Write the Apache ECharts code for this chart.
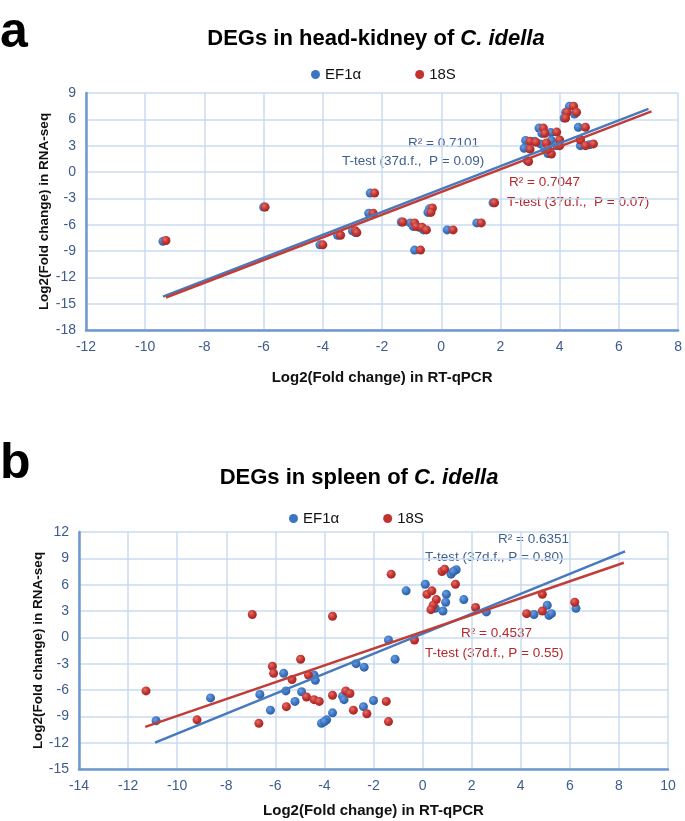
<!DOCTYPE html>
<html>
<head>
<meta charset="utf-8">
<script src="https://cdn.jsdelivr.net/npm/echarts@6/dist/echarts.min.js"></script>
<style>
html,body{margin:0;padding:0;background:#fff;}
#c{width:685px;height:821px;}
</style>
</head>
<body>
<div id="c"></div>
<script>
// ---------- data: panel a (head-kidney) ----------
const aEF1a = [[-9.4,-7.9],[-6.0,-4.0],[-4.1,-8.3],[-3.5,-7.2],[-3.0,-6.7],[-2.4,-2.4],[-2.45,-4.7],[-1.35,-5.7],[-1.05,-5.8],[-0.95,-6.2],[-0.75,-6.3],[-0.6,-6.6],[-0.4,-4.2],[-0.45,-4.6],[0.2,-6.6],[-0.9,-8.9],[1.2,-5.8],[1.75,-3.5],[2.85,3.6],[2.8,2.7],[2.9,1.3],[3.15,3.5],[3.3,5.0],[3.4,4.4],[3.35,3.2],[3.6,2.1],[3.7,4.5],[3.72,3.6],[4.2,6.8],[4.33,7.5],[4.5,6.6],[4.15,6.15],[4.63,5.1],[4.7,3.7],[4.7,3.0],[5.0,3.1],[3.5,2.6],[3.9,3.0],[-2.9,-6.9]];
const a18S = [[-9.3,-7.8],[-5.95,-4.0],[-4.0,-8.3],[-3.4,-7.2],[-2.9,-6.7],[-2.25,-2.4],[-2.3,-4.7],[-1.3,-5.7],[-0.9,-5.8],[-0.85,-6.2],[-0.65,-6.3],[-0.5,-6.6],[-0.3,-4.1],[-0.35,-4.6],[0.4,-6.6],[-0.7,-8.9],[1.35,-5.8],[1.8,-3.5],[3.0,3.5],[3.0,2.6],[2.95,1.2],[3.2,3.4],[3.45,5.0],[3.5,4.4],[3.55,3.3],[3.72,2.05],[3.9,4.55],[4.0,3.65],[4.25,6.8],[4.47,7.5],[4.57,6.8],[4.2,6.15],[4.87,5.1],[4.7,3.65],[4.87,3.0],[5.14,3.2],[3.6,2.6],[4.0,3.0],[-2.85,-6.9]];
const aTrendEF1a = [[-9.4,-14.2],[7.0,7.2]];
const aTrend18S = [[-9.3,-14.3],[7.1,6.9]];
const aXTicks = {min:-12, max:8, interval:2};
const aYTicks = {min:-18, max:9, interval:3};

// ---------- data: panel b (spleen) ----------
const bEF1a = [[-10.86,-9.5],[-8.64,-6.9],[-6.63,-6.5],[-6.2,-8.3],[-5.66,-4.1],[-5.57,-6.1],[-5.2,-7.3],[-4.93,-6.2],[-4.42,-4.3],[-4.37,-4.9],[-4.12,-9.8],[-3.91,-9.4],[-3.67,-8.6],[-3.26,-6.7],[-3.2,-7.1],[-2.71,-3.0],[-2.38,-3.4],[-2.41,-7.9],[-2.0,-7.2],[-1.39,-0.3],[-1.12,-2.5],[-0.67,5.3],[0.11,6.05],[0.52,3.3],[0.83,3.0],[0.97,4.9],[0.94,4.0],[1.16,7.2],[1.37,7.7],[1.25,7.5],[1.68,4.3],[2.6,2.9],[4.54,2.6],[5.08,3.65],[5.15,2.5],[5.25,2.7],[6.25,3.3],[-4.0,-9.6]];
const b18S = [[-11.27,-6.1],[-9.19,-9.4],[-6.94,2.6],[-6.67,-9.8],[-6.12,-3.3],[-6.07,-4.1],[-5.55,-7.9],[-5.32,-4.8],[-4.97,-2.5],[-4.73,-6.8],[-4.65,-4.3],[-4.42,-7.1],[-4.21,-7.3],[-3.67,2.4],[-3.67,-6.6],[-3.13,-6.1],[-2.96,-6.4],[-2.82,-8.3],[-2.27,-8.7],[-1.48,-7.3],[-1.39,-9.6],[-1.28,7.2],[-0.33,-0.3],[0.18,4.9],[0.38,5.3],[0.56,4.3],[0.43,3.65],[0.34,3.15],[0.79,7.5],[0.9,7.75],[1.34,6.05],[2.16,3.4],[4.24,2.7],[4.88,3.0],[4.88,4.9],[6.2,4.0]];
const bTrendEF1a = [[-10.9,-12.0],[8.25,9.8]];
const bTrend18S = [[-11.3,-10.2],[8.2,8.5]];
const bXTicks = {min:-14, max:10, interval:2};
const bYTicks = {min:-15, max:12, interval:3};

const seriesNames = ['EF1\u03b1','18S'];
const xName = 'Log2(Fold change) in RT-qPCR';
const yName = 'Log2(Fold change) in RNA-seq';
const titleA = ['DEGs in head-kidney of ','C. idella'];
const titleB = ['DEGs in spleen of ','C. idella'];
const annA = [['R\u00b2 = 0.7101','T-test (37d.f.,  P = 0.09)'],['R\u00b2 = 0.7047','T-test (37d.f.,  P = 0.07)']];
const annB = [['R\u00b2 = 0.6351','T-test (37d.f., P = 0.80)'],['R\u00b2 = 0.4537','T-test (37d.f., P = 0.55)']];

// ---------- styling ----------
const FONT = '"Liberation Sans", Arial, Helvetica, sans-serif';
const BLUE = '#3c76c2', RED = '#c2332f';
const blueBall = new echarts.graphic.RadialGradient(0.38,0.35,0.7,[{offset:0,color:'#6f9ee0'},{offset:0.55,color:'#3c76c2'},{offset:1,color:'#2a5a9e'}]);
const redBall = new echarts.graphic.RadialGradient(0.38,0.35,0.7,[{offset:0,color:'#e2706a'},{offset:0.55,color:'#c2332f'},{offset:1,color:'#9c2522'}]);
const tickColor = '#3e5b8c';
const gridColor = '#c9dbf1';
const axisColor = '#6d98d0';

function xAxis(idx, t, gap){
  return {type:'value', gridIndex:idx, min:t.min, max:t.max, interval:t.interval,
    name:xName, nameLocation:'middle', nameGap:gap, nameMoveOverlap:false,
    nameTextStyle:{fontFamily:FONT, fontWeight:'bold', fontSize:15, color:'#111'},
    axisLine:{show:true, onZero:false, lineStyle:{color:axisColor, width:2.5}},
    axisTick:{show:false},
    axisLabel:{fontFamily:FONT, fontSize:14, color:tickColor, margin:10},
    splitLine:{show:true, lineStyle:{color:gridColor, width:1.5}}};
}
function yAxis(idx, t, gap){
  return {type:'value', gridIndex:idx, min:t.min, max:t.max, interval:t.interval,
    name:yName, nameLocation:'middle', nameGap:gap, nameMoveOverlap:false,
    nameTextStyle:{fontFamily:FONT, fontWeight:'bold', fontSize:13.5, color:'#111'},
    axisLine:{show:true, onZero:false, lineStyle:{color:axisColor, width:2.5}},
    axisTick:{show:false},
    axisLabel:{fontFamily:FONT, fontSize:14, color:tickColor, margin:10},
    splitLine:{show:true, lineStyle:{color:gridColor, width:1.5}}};
}
function scatter(name, idx, data, ball){
  return {type:'scatter', name:name, xAxisIndex:idx, yAxisIndex:idx, data:data,
    symbolSize:9, itemStyle:{color:ball, opacity:1}, z:2, silent:true};
}
function trend(name, idx, data, color){
  return {type:'line', name:name, xAxisIndex:idx, yAxisIndex:idx, data:data,
    showSymbol:false, symbol:'none', lineStyle:{color:color, width:2.5}, z:3, silent:true, legendHoverLink:false};
}
function title(parts, x, top){
  return {text:'{n|'+parts[0]+'}{i|'+parts[1]+'}', left:x, top:top, textAlign:'center',
    textStyle:{rich:{n:{fontFamily:FONT, fontWeight:'bold', fontSize:22, color:'#000'},
                     i:{fontFamily:FONT, fontWeight:'bold', fontStyle:'italic', fontSize:22, color:'#000'}}}};
}
function legend(left, top, gap){
  return {left:left, top:top, itemGap:gap, icon:'circle', itemWidth:9, itemHeight:9,
    selectedMode:false,
    textStyle:{fontFamily:FONT, fontSize:15, color:'#111'},
    data:[{name:seriesNames[0], itemStyle:{color:BLUE}},{name:seriesNames[1], itemStyle:{color:RED}}]};
}
function txt(s, x, y, color){
  return {type:'text', left:x, top:y-9, style:{text:s, fill:color, font:'13.5px '+FONT}};
}

const option = {
  animation:false,
  backgroundColor:'#fff',
  title:[title(titleA, 371, 23), title(titleB, 354, 462)],
  legend:[legend(306, 62, 54), legend(284, 506, 44)],
  grid:[{left:86, top:93, width:594, height:237},
        {left:79, top:532, width:589, height:237}],
  xAxis:[xAxis(0, aXTicks, 40), xAxis(1, bXTicks, 34)],
  yAxis:[yAxis(0, aYTicks, 35), yAxis(1, bYTicks, 34)],
  series:[
    scatter(seriesNames[0], 0, aEF1a, blueBall),
    scatter(seriesNames[1], 0, a18S, redBall),
    trend(seriesNames[0], 0, aTrendEF1a, '#4779be'),
    trend(seriesNames[1], 0, aTrend18S, '#c13d38'),
    scatter(seriesNames[0], 1, bEF1a, blueBall),
    scatter(seriesNames[1], 1, b18S, redBall),
    trend(seriesNames[0], 1, bTrendEF1a, '#4779be'),
    trend(seriesNames[1], 1, bTrend18S, '#c13d38')
  ],
  graphic:[
    {type:'text', left:0, top:8, style:{text:'a', fill:'#000', font:'bold 50px '+FONT}},
    {type:'text', left:0, top:439, style:{text:'b', fill:'#000', font:'bold 50px '+FONT}},
    txt(annA[0][0], 408, 145, '#3f5f92'),
    txt(annA[0][1], 342, 163, '#3f5f92'),
    txt(annA[1][0], 509, 184, '#b5272b'),
    txt(annA[1][1], 507, 204, '#b5272b'),
    txt(annB[0][0], 498, 541, '#3f5f92'),
    txt(annB[0][1], 425, 559, '#3f5f92'),
    txt(annB[1][0], 461, 635, '#b5272b'),
    txt(annB[1][1], 425, 655, '#b5272b')
  ]
};
const chart = echarts.init(document.getElementById('c'), null, {renderer:'canvas'});
chart.setOption(option);
</script>
</body>
</html>
